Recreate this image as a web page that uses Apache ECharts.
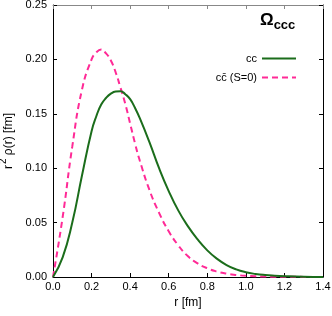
<!DOCTYPE html>
<html>
<head>
<meta charset="utf-8">
<script src="https://cdn.jsdelivr.net/npm/echarts@6/dist/echarts.min.js"></script>
<style>html,body{margin:0;padding:0;background:#fff;}#c{width:332px;height:316px;}</style>
</head>
<body>
<div id="c"></div>
<script>
var seriesNames = ['cc', 'cc\u0304 (S=0)'];
var rValues = [0, 0.05, 0.10, 0.15, 0.20, 0.225, 0.25, 0.275, 0.30, 0.325, 0.35, 0.375, 0.40, 0.425, 0.45, 0.50, 0.55, 0.60, 0.65, 0.70, 0.75, 0.80, 0.85, 0.90, 0.95, 1.00, 1.05, 1.10, 1.15, 1.20, 1.30, 1.40];
var ccV = [0, 0.018, 0.050, 0.093, 0.134, 0.148, 0.1585, 0.1645, 0.1685, 0.1705, 0.1708, 0.168, 0.1635, 0.1555, 0.146, 0.124, 0.100, 0.079, 0.061, 0.0465, 0.0345, 0.0245, 0.0168, 0.011, 0.0070, 0.0044, 0.0028, 0.0018, 0.0012, 0.0008, 0.0003, 0.0001];
var ccbarV = [0, 0.055, 0.120, 0.172, 0.200, 0.2065, 0.209, 0.2055, 0.199, 0.188, 0.174, 0.159, 0.141, 0.123, 0.107, 0.080, 0.059, 0.042, 0.029, 0.019, 0.0125, 0.008, 0.0050, 0.0031, 0.0019, 0.0011, 0.0007, 0.0004, 0.0003, 0.0002, 0.0001, 0];
var xTicks = [0, 0.2, 0.4, 0.6, 0.8, 1.0, 1.2, 1.4];
var yTicks = [0, 0.05, 0.10, 0.15, 0.20, 0.25];
var titleText = '\u03A9';
var titleSub = 'ccc';
var xName = 'r [fm]';

function pairs(r, v) { return r.map(function (x, i) { return [x, v[i]]; }); }

var font = '"Liberation Sans", Arial, Helvetica, sans-serif';
var chart = echarts.init(document.getElementById('c'), null, { renderer: 'canvas' });
var tickCommon = { show: true, inside: true, length: 4, lineStyle: { color: '#000', width: 1 } };
chart.setOption({
  animation: false,
  backgroundColor: '#fff',
  textStyle: { fontFamily: font },
  title: {
    text: '{o|' + titleText + '}{s|' + titleSub + '}',
    left: 260, top: 12, padding: 0,
    textStyle: {
      rich: {
        o: { fontSize: 17, fontFamily: font, color: '#000', lineHeight: 20, verticalAlign: 'top' },
        s: { fontSize: 13, fontWeight: 'bold', fontFamily: font, color: '#000', lineHeight: 20, verticalAlign: 'bottom', padding: [8, 0, 0, 0] }
      }
    }
  },
  legend: {
    orient: 'vertical', right: 30, top: 48, align: 'right',
    itemWidth: 34, itemHeight: 12, itemGap: 8,
    itemStyle: { opacity: 0 },
    textStyle: { fontSize: 11, color: '#000', fontFamily: font },
    data: seriesNames
  },
  grid: { left: 53, right: 9, top: 5, bottom: 39, containLabel: false, outerBoundsMode: 'none' },
  xAxis: [{
    type: 'value', min: 0, max: 1.4, interval: 0.2,
    name: xName, nameLocation: 'middle', nameGap: 20,
    nameTextStyle: { fontSize: 12, color: '#000', fontFamily: font },
    axisLine: { show: true, onZero: false, lineStyle: { color: '#000', width: 1 } },
    axisTick: tickCommon,
    axisLabel: { fontSize: 11, color: '#000', margin: 4, formatter: function (v) { return v.toFixed(1); } },
    splitLine: { show: false }
  }, {
    type: 'value', position: 'top', min: 0, max: 1.4, interval: 0.2,
    axisLine: { show: true, onZero: false, lineStyle: { color: '#888', width: 1 } },
    axisTick: { show: true, inside: true, length: 4, lineStyle: { color: '#888', width: 1 } },
    axisLabel: { show: false }, splitLine: { show: false }
  }],
  yAxis: [{
    type: 'value', min: 0, max: 0.25, interval: 0.05,
    name: '{r|r}{p|2}{n| \u03C1(r) [fm]}', nameLocation: 'middle', nameGap: 36,
    nameTextStyle: {
      rich: {
        r: { fontSize: 12, color: '#000', fontFamily: font, lineHeight: 16, verticalAlign: 'bottom' },
        p: { fontSize: 10, color: '#000', fontFamily: font, lineHeight: 16, verticalAlign: 'top', padding: [0, 0, 5, 1] },
        n: { fontSize: 12, color: '#000', fontFamily: font, lineHeight: 16, verticalAlign: 'bottom' }
      }
    },
    axisLine: { show: true, onZero: false, lineStyle: { color: '#000', width: 1 } },
    axisTick: tickCommon,
    axisLabel: { fontSize: 11, color: '#000', margin: 6, formatter: function (v) { return v.toFixed(2); } },
    splitLine: { show: false }
  }, {
    type: 'value', position: 'right', min: 0, max: 0.25, interval: 0.05,
    axisLine: { show: true, onZero: false, lineStyle: { color: '#000', width: 1 } },
    axisTick: tickCommon,
    axisLabel: { show: false }, splitLine: { show: false }
  }],
  series: [{
    name: seriesNames[0], type: 'line', symbol: 'none', smooth: 0.5,
    data: pairs(rValues, ccV), z: 3,
    lineStyle: { color: '#1b6d1b', width: 2 }, itemStyle: { color: '#1b6d1b' }
  }, {
    name: seriesNames[1], type: 'line', symbol: 'none', smooth: 0.5,
    data: pairs(rValues, ccbarV), z: 2,
    lineStyle: { color: '#ff2a96', width: 2, type: [6, 4] }, itemStyle: { color: '#ff2a96' }
  }]
});
</script>
</body>
</html>
